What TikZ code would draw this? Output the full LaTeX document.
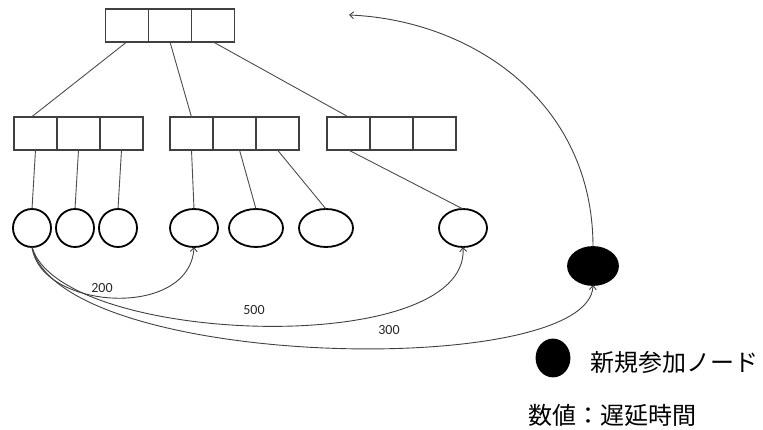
\documentclass[tikz,border=0pt]{standalone}
\usepackage{fontspec}
\setmainfont{Carlito}
\newfontfamily\jpfont{Noto Sans CJK JP}
\usetikzlibrary{shapes.geometric,arrows.meta}
\begin{document}
\begin{tikzpicture}[x=1pt,y=-1pt,
  cell/.style={draw=black!75,line width=1.1pt,minimum width=43pt,minimum height=33pt,inner sep=0pt,outer sep=0pt},
  leaf/.style={draw=black,line width=1.8pt,ellipse,minimum height=38pt,inner sep=0pt,outer sep=0pt},
  link/.style={draw=black!70,line width=0.9pt},
  arc/.style={draw=black!75,line width=0.9pt,-{Straight Barb[length=4pt,width=7pt]}},
  lbl/.style={font=\fontsize{14}{16}\selectfont,text=black!85,inner sep=0pt},
  jp/.style={font=\jpfont\fontsize{24}{26}\selectfont,inner sep=0pt,anchor=west}]
\useasboundingbox (0,0) rectangle (763,430);
% top box
\node[cell] (t1) at (126.7,25.5) {};
\node[cell] (t2) at (170,25.5) {};
\node[cell] (t3) at (213.3,25.5) {};
% second level boxes
\node[cell] (a1) at (35.5,133.5) {};
\node[cell] (a2) at (78.5,133.5) {};
\node[cell] (a3) at (121.5,133.5) {};
\node[cell] (b1) at (191.5,133.5) {};
\node[cell] (b2) at (234.5,133.5) {};
\node[cell] (b3) at (277.5,133.5) {};
\node[cell] (c1) at (348.5,133.5) {};
\node[cell] (c2) at (391.5,133.5) {};
\node[cell] (c3) at (434.5,133.5) {};
% leaves
\node[leaf,minimum width=38pt] (l1) at (32,228) {};
\node[leaf,minimum width=38pt] (l2) at (75,228) {};
\node[leaf,minimum width=38pt] (l3) at (118,228) {};
\node[leaf,minimum width=48pt] (l4) at (194,228) {};
\node[leaf,minimum width=54pt] (l5) at (256,228) {};
\node[leaf,minimum width=54pt] (l6) at (326,228) {};
\node[leaf,minimum width=48pt] (l7) at (463,228) {};
\node[leaf,fill=black,minimum width=50pt] (n) at (593,266) {};
% legend
\node[leaf,fill=black,minimum width=33pt,minimum height=37pt] (lg) at (553,358) {};
\node[jp] (lgt) at (590,362) {新規参加ノード};
\node[jp] (note) at (528,415) {数値：遅延時間};
% tree links
\draw[link] (t1.south) -- ([xshift=-4pt]a1.north);
\draw[link] (t2.south) -- (b1.north);
\draw[link] (t3.south) -- (c1.north);
\draw[link] (a1.south) -- (l1.north);
\draw[link] (a2.south) -- (l2.north);
\draw[link] (a3.south) -- (l3.north);
\draw[link] (b1.south) -- (l4.north);
\draw[link] ([xshift=5pt]b2.south) -- (l5.north);
\draw[link] (b3.south) -- (l6.north);
\draw[link] (c1.south) -- (l7.north);
% delay arcs
\draw[arc] (l1.south) .. controls (40,310) and (190,320) .. (l4.south);
\draw[arc] (l1.south) .. controls (60,345) and (470,360) .. (l7.south);
\draw[arc] (l1.south) .. controls (60,370) and (590,380) .. (n.south);
\node[lbl] (d200) at (102,288) {200};
\node[lbl] (d500) at (254,310) {500};
\node[lbl] (d300) at (389,330) {300};
% join arc
\coordinate (topend) at (349,15);
\draw[arc] (n.north) .. controls (593,100) and (470,20) .. (topend);
\end{tikzpicture}
\end{document}
